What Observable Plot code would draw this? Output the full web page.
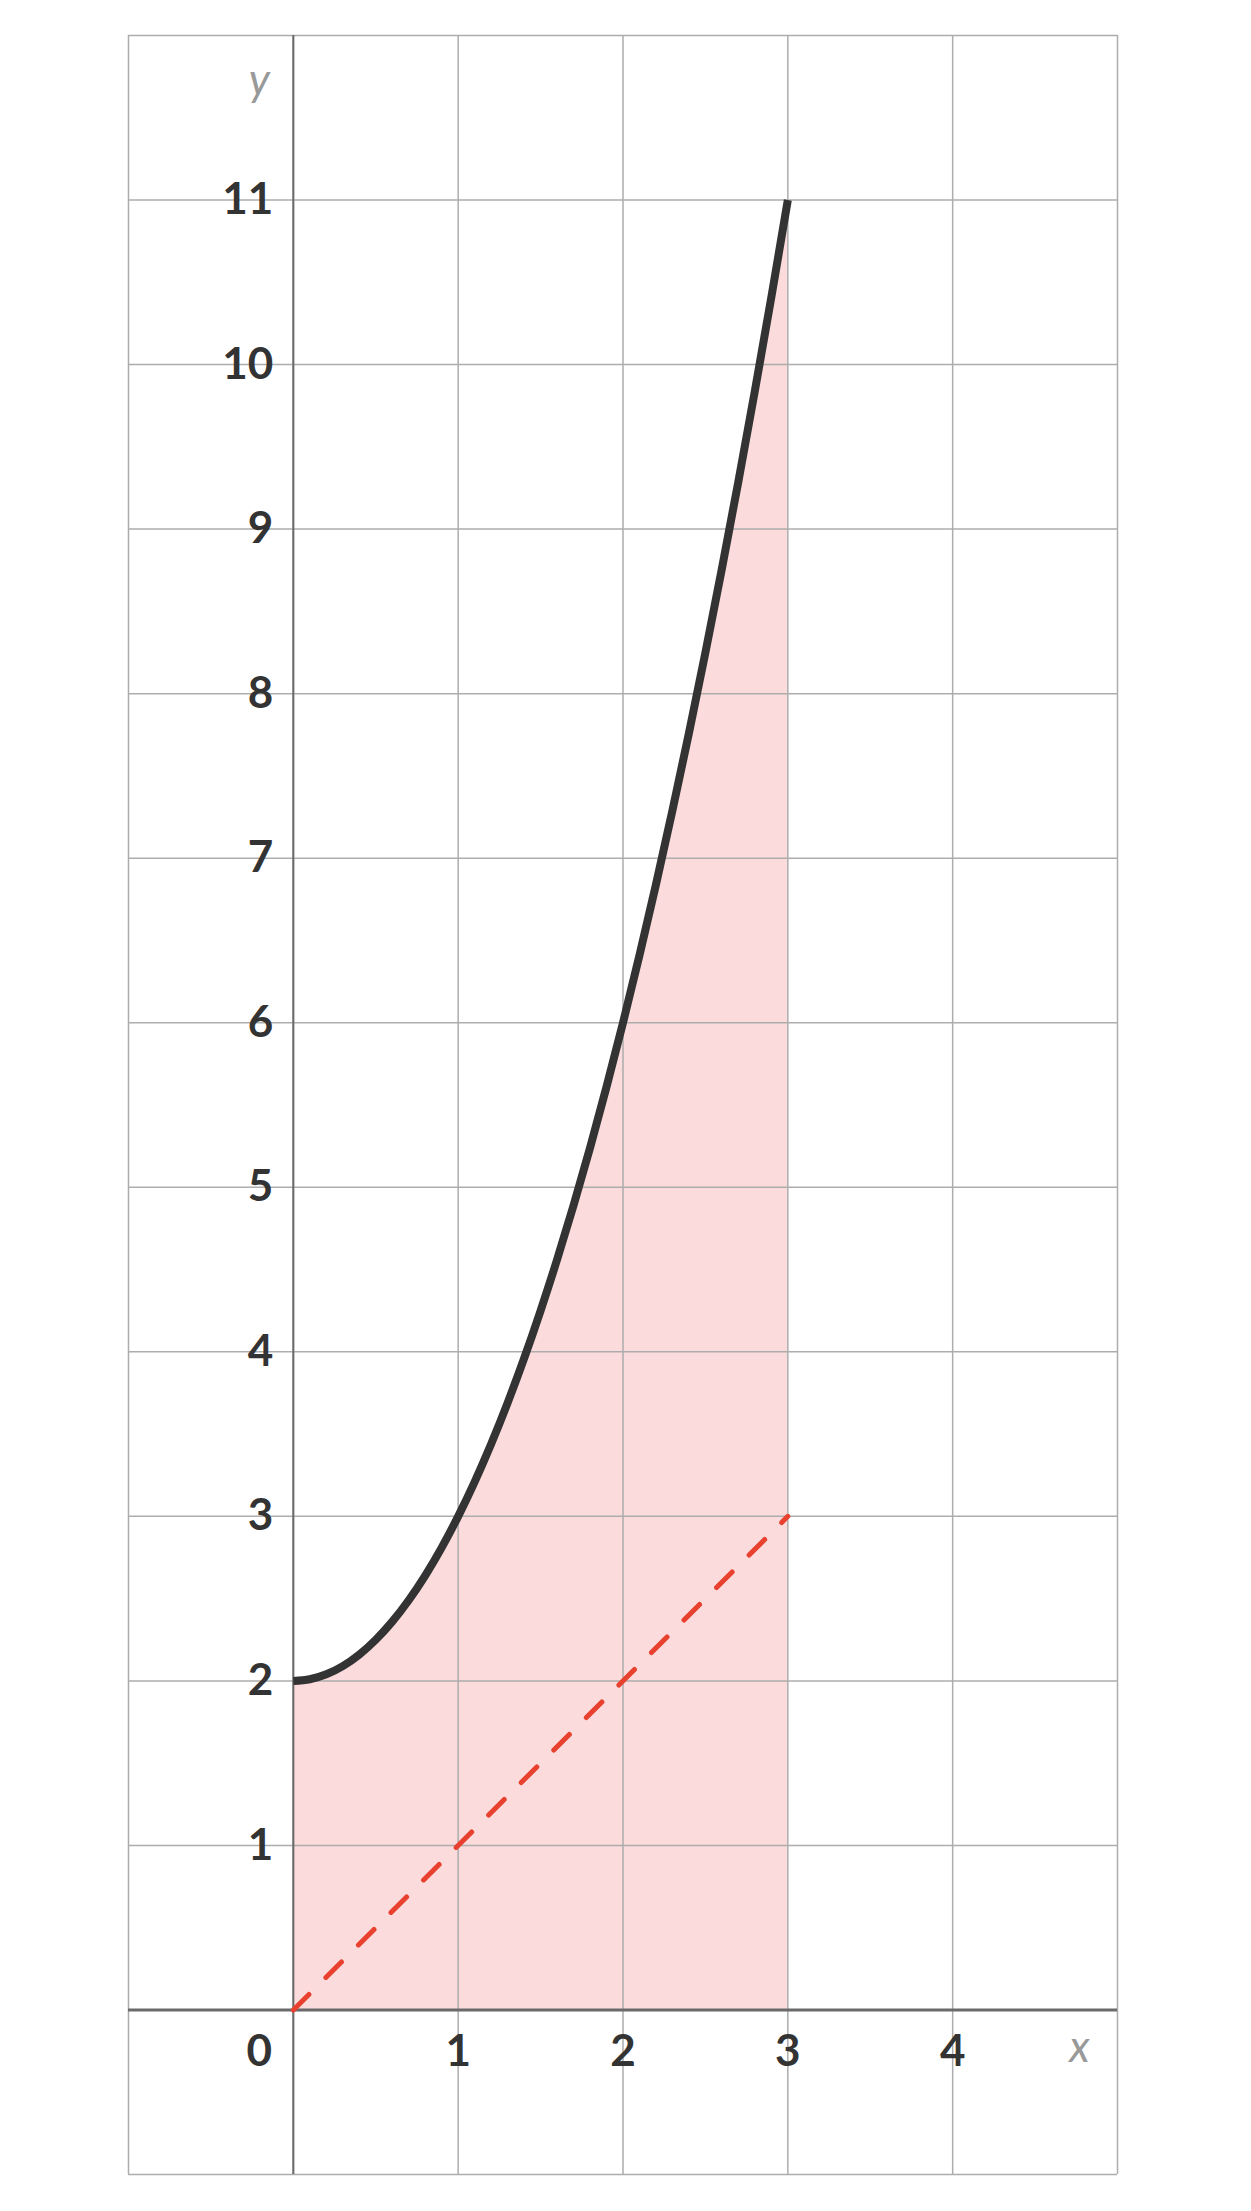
<!DOCTYPE html>
<html>
<head>
<meta charset="utf-8">
<script src="https://cdn.jsdelivr.net/npm/d3@7"></script>
<script src="https://cdn.jsdelivr.net/npm/@observablehq/plot@0.6"></script>
<style>
  html, body { margin: 0; padding: 0; background: #fff; }
  #chart svg { display: block; }
</style>
</head>
<body>
<div id="chart"></div>
<script>
// Curve y = x² + 2
const curveX = [0, 0.1, 0.2, 0.3, 0.4, 0.5, 0.6, 0.7, 0.8, 0.9, 1, 1.1, 1.2, 1.3, 1.4, 1.5, 1.6, 1.7, 1.8, 1.9, 2, 2.1, 2.2, 2.3, 2.4, 2.5, 2.6, 2.7, 2.8, 2.9, 3];
const curveY = [2, 2.01, 2.04, 2.09, 2.16, 2.25, 2.36, 2.49, 2.64, 2.81, 3, 3.21, 3.44, 3.69, 3.96, 4.25, 4.56, 4.89, 5.24, 5.61, 6, 6.41, 6.84, 7.29, 7.76, 8.25, 8.76, 9.29, 9.84, 10.41, 11];
// Dashed line y = x
const lineX = [0, 3];
const lineY = [0, 3];
// Grid and tick labels
const gridXValues = [-1, 0, 1, 2, 3, 4, 5];
const gridYValues = [-1, 0, 1, 2, 3, 4, 5, 6, 7, 8, 9, 10, 11, 12];
const xTickLabels = [1, 2, 3, 4];
const yTickLabels = [1, 2, 3, 4, 5, 6, 7, 8, 9, 10, 11];

const curve = curveX.map((x, i) => ({x, y: curveY[i]}));
const line = lineX.map((x, i) => ({x, y: lineY[i]}));

const labelFont = "Lato, 'Open Sans', sans-serif";

const chart = Plot.plot({
  width: 1251,
  height: 2211,
  marginLeft: 128,
  marginRight: 134,
  marginTop: 35,
  marginBottom: 37,
  x: {domain: [-1, 5], axis: null},
  y: {domain: [-1, 12], axis: null},
  style: {fontFamily: labelFont, background: "#fff"},
  marks: [
    Plot.areaY(curve, {x: "x", y: "y", fill: "#fbdbdb", curve: "monotone-x"}),
    Plot.ruleX(gridXValues, {stroke: "#adadad", strokeWidth: 1.5}),
    Plot.ruleY(gridYValues, {stroke: "#adadad", strokeWidth: 1.5}),
    Plot.ruleX([0], {stroke: "#6a6a6a", strokeWidth: 2}),
    Plot.ruleY([0], {stroke: "#6a6a6a", strokeWidth: 3}),
    Plot.line(line, {x: "x", y: "y", stroke: "#e8412f", strokeWidth: 5, strokeDasharray: "22,24"}),
    Plot.line(curve, {x: "x", y: "y", stroke: "#333333", strokeWidth: 8, curve: "monotone-x", strokeLinecap: "butt"}),
    Plot.text(yTickLabels, {x: 0, y: d => d, text: d => String(d), dx: -20, textAnchor: "end", fontSize: 44, fontWeight: 700, fill: "#333"}),
    Plot.text(xTickLabels, {x: d => d, y: 0, text: d => String(d), dy: 42, fontSize: 44, fontWeight: 700, fill: "#333"}),
    Plot.text([0], {x: 0, y: 0, text: d => String(d), dx: -34, dy: 42, fontSize: 44, fontWeight: 700, fill: "#333"}),
    Plot.text(["y"], {x: 0, y: 12, text: d => d, dx: -34, dy: 45, fontSize: 44, fontStyle: "italic", fill: "#999"}),
    Plot.text(["x"], {x: 5, y: 0, text: d => d, dx: -38, dy: 38, fontSize: 44, fontStyle: "italic", fill: "#999"})
  ]
});
document.getElementById("chart").appendChild(chart);
</script>
</body>
</html>
